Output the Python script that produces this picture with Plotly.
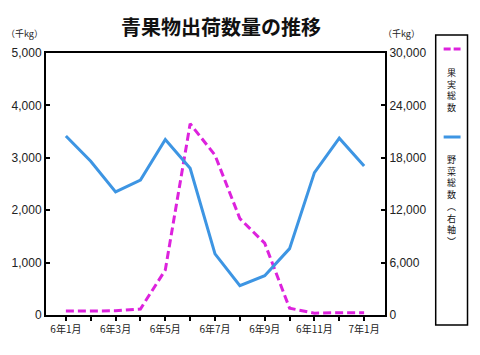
import plotly.graph_objects as go

months = ["6年1月", "6年2月", "6年3月", "6年4月", "6年5月", "6年6月", "6年7月",
          "6年8月", "6年9月", "6年10月", "6年11月", "6年12月", "7年1月"]
fruit = [75, 75, 80, 115, 860, 3650, 3050, 1840, 1370, 130, 35, 45, 45]
vegetable = [20500, 17600, 14100, 15450, 20100, 16800, 7000, 3350, 4500, 7600, 16300, 20250, 17050]

left_ticks = [0, 1000, 2000, 3000, 4000, 5000]
right_ticks = [0, 6000, 12000, 18000, 24000, 30000]

title_text = "青果物出荷数量の推移"
unit_text = "（千kg）"
legend_fruit = "果実総数"
legend_veg = "野菜総数︵右軸︶"

FONT = "Liberation Sans, Arial, Noto Sans CJK JP"
CJK = "Noto Sans CJK JP"
PINK = "#DD22DD"
BLUE = "#3D95E3"

x = list(range(len(months)))
ticktext = [m if i % 2 == 0 else "" for i, m in enumerate(months)]

fig = go.Figure()
fig.add_trace(go.Scatter(x=x, y=fruit, mode="lines", name="果実総数",
                         line=dict(color=PINK, width=3, dash="8px,4px"), yaxis="y"))
fig.add_trace(go.Scatter(x=x, y=vegetable, mode="lines", name="野菜総数（右軸）",
                         line=dict(color=BLUE, width=3), yaxis="y2"))

L, R, T, B = 44, 385, 53, 315
W, H = 480, 355
pw, ph = R - L, B - T

def px(xp):
    return (xp - L) / pw

def py(yp):
    return (B - yp) / ph

fig.update_layout(
    width=W, height=H,
    margin=dict(l=L, r=W - R, t=T, b=H - B),
    paper_bgcolor="white", plot_bgcolor="white",
    showlegend=False,
    font=dict(family=FONT, size=12, color="#222"),
    xaxis=dict(range=[-0.8, 12.84], tickvals=x, ticktext=ticktext,
               showline=True, linecolor="black", linewidth=2, mirror=True,
               ticks="outside", ticklen=4, tickwidth=2, tickcolor="black",
               showgrid=False, zeroline=False,
               tickfont=dict(family=CJK, size=10, color="#222")),
    yaxis=dict(range=[0, 5000], tickvals=left_ticks, tickformat=",d",
               showline=True, linecolor="black", linewidth=2,
               ticks="inside", ticklen=4, tickwidth=2, tickcolor="black",
               showgrid=False, zeroline=False,
               tickfont=dict(family=FONT, size=12, color="#222")),
    yaxis2=dict(range=[0, 30000], tickvals=right_ticks, tickformat=",d",
                overlaying="y", side="right",
                showline=True, linecolor="black", linewidth=2,
                ticks="inside", ticklen=4, tickwidth=2, tickcolor="black",
                showgrid=False, zeroline=False,
                tickfont=dict(family=FONT, size=12, color="#222")),
)

ann = []
ann.append(dict(text="<b>" + title_text + "</b>", xref="paper", yref="paper",
                x=px(220), y=py(27), showarrow=False, xanchor="center", yanchor="middle",
                font=dict(family=CJK, size=20, color="#111")))
ann.append(dict(text=unit_text, xref="paper", yref="paper", x=px(22), y=py(33),
                showarrow=False, xanchor="center", yanchor="middle",
                font=dict(family=CJK, size=9, color="#222")))
ann.append(dict(text=unit_text, xref="paper", yref="paper", x=px(402), y=py(33),
                showarrow=False, xanchor="center", yanchor="middle",
                font=dict(family=CJK, size=9, color="#222")))

cx = 451.5
fs_f, fs_v = 9, 9
n_f, n_v = len(legend_fruit), len(legend_veg)
ann.append(dict(text="<br>".join(legend_fruit), xref="paper", yref="paper",
                x=px(cx), y=py(72 + (n_f - 1) * 1.3 * fs_f / 2),
                showarrow=False, xanchor="center", yanchor="middle", align="center",
                font=dict(family=CJK, size=fs_f, color="#111")))
ann.append(dict(text="<br>".join(legend_veg), xref="paper", yref="paper",
                x=px(cx), y=py(160 + (n_v - 1) * 1.3 * fs_v / 2),
                showarrow=False, xanchor="center", yanchor="middle", align="center",
                font=dict(family=CJK, size=fs_v, color="#111")))
fig.update_layout(annotations=ann)

shapes = [
    dict(type="rect", xref="paper", yref="paper", x0=px(436), x1=px(468), y0=py(325), y1=py(35),
         line=dict(color="black", width=1.5), fillcolor="white", layer="below"),
    dict(type="line", xref="paper", yref="paper", x0=px(444), x1=px(461), y0=py(49), y1=py(49),
         line=dict(color=PINK, width=3, dash="7px,3px")),
    dict(type="line", xref="paper", yref="paper", x0=px(444), x1=px(461), y0=py(137), y1=py(137),
         line=dict(color=BLUE, width=3)),
]
fig.update_layout(shapes=shapes)

fig.write_html("out.html")
